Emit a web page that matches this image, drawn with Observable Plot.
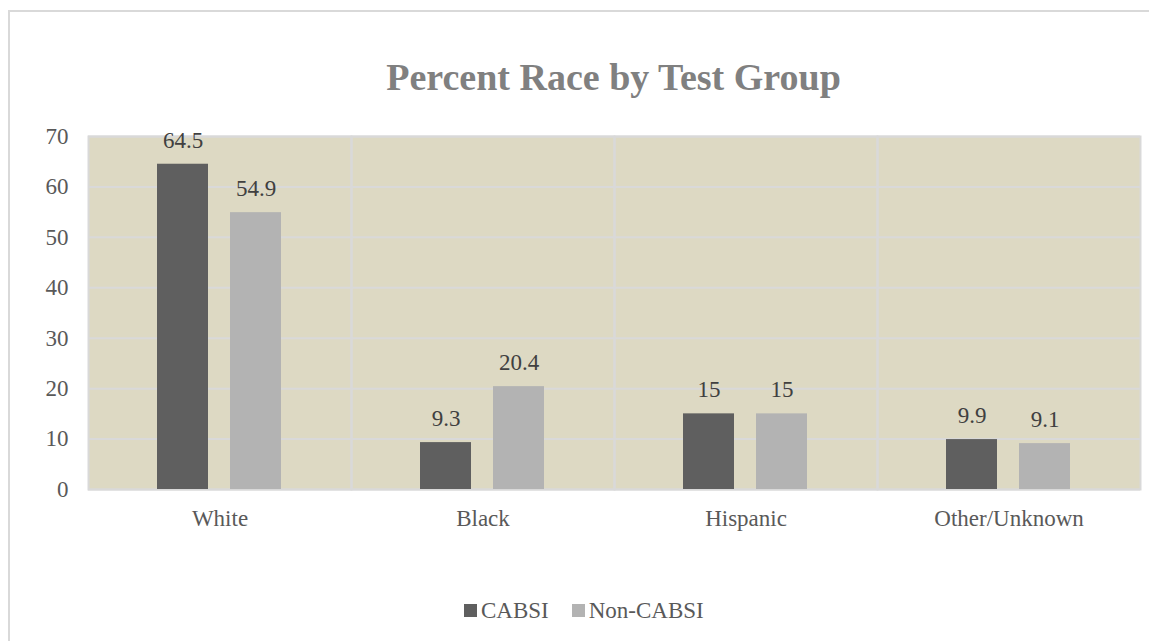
<!DOCTYPE html>
<html>
<head>
<meta charset="utf-8">
<script src="https://cdn.jsdelivr.net/npm/d3@7"></script>
<script src="https://cdn.jsdelivr.net/npm/@observablehq/plot@0.6"></script>
<style>
  body { margin: 0; background: #fff; font-family: "Liberation Serif", "Times New Roman", serif; }
  #page { position: relative; width: 1149px; height: 641px; overflow: hidden; background: #fff; }
  #border { position: absolute; left: 8px; top: 10px; width: 1300px; height: 800px;
            border-left: 2px solid #d9d9d9; border-top: 2px solid #d9d9d9; }
  #title { position: absolute; left: 86px; width: 1055px; top: 55px; margin: 0;
           text-align: center; font-weight: bold; font-size: 38px; line-height: 44px; color: #808080;
           font-family: "Liberation Serif", serif; }
  #chart { position: absolute; left: 0; top: 120px; }
  #chart svg, #chart svg text { font-family: "Liberation Serif", serif !important; }
  #legend { position: absolute; left: 464px; top: 594px; }
  #legend, #legend * { font-family: "Liberation Serif", serif !important; }
  #legend span > svg { margin-right: 4px !important; }
  #legend > div > span { margin-right: 23px !important; }
  #legend > div { margin: 0 !important; }
</style>
</head>
<body>
<div id="page">
  <div id="border"></div>
  <h1 id="title">Percent Race by Test Group</h1>
  <div id="chart"></div>
  <div id="legend"></div>
</div>
<script>
// Share of each race within the CABSI and non-CABSI test groups (percent)
const categories = ["White", "Black", "Hispanic", "Other/Unknown"];
const series = ["CABSI", "Non-CABSI"];
const cabsi = [64.5, 9.3, 15, 9.9];
const nonCabsi = [54.9, 20.4, 15, 9.1];
const yTicks = [0, 10, 20, 30, 40, 50, 60, 70];
const colors = ["#5f5f5f", "#b3b3b3"];

const rows = categories.flatMap((race, i) => [
  {race, group: series[0], pct: cabsi[i]},
  {race, group: series[1], pct: nonCabsi[i]}
]);

const font = "Liberation Serif";

const chart = Plot.plot({
  width: 1149,
  height: 440,
  marginTop: 16,
  marginBottom: 71,
  marginLeft: 86,
  marginRight: 8,
  style: {fontFamily: font, fontSize: "23px", color: "#595959", background: "transparent", overflow: "visible"},
  fx: {domain: categories, padding: 0, label: null, axis: "bottom", tickSize: 0, tickPadding: 20},
  x: {domain: series, axis: null, paddingInner: 0.297, paddingOuter: 0.932},
  y: {domain: [0, 70], ticks: yTicks, tickSize: 0, tickPadding: 20, label: null},
  color: {domain: series, range: colors},
  marks: [
    Plot.frame({fill: "#ddd9c3"}),
    Plot.ruleY(yTicks, {stroke: "#d9d9d9", strokeWidth: 2}),
    Plot.frame({stroke: "#d9d9d9", strokeWidth: 2}),
    Plot.barY(rows, {fx: "race", x: "group", y: "pct", fill: "group"}),
    Plot.text(rows, {fx: "race", x: "group", y: "pct", text: d => String(d.pct),
                     dy: -24, fill: "#404040", fontSize: 23, fontFamily: font})
  ]
});
document.getElementById("chart").append(chart);

const legend = Plot.legend({
  color: {domain: series, range: colors},
  swatchSize: 13,
  style: {fontFamily: font, fontSize: "23px", color: "#595959"}
});
document.getElementById("legend").append(legend);
</script>
</body>
</html>
